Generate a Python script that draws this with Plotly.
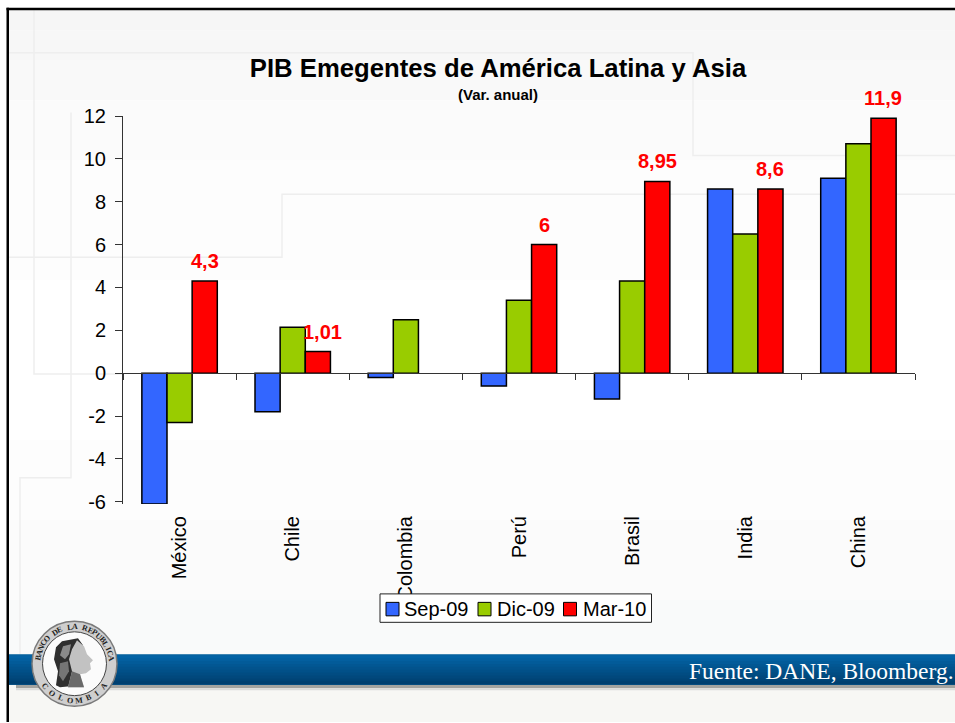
import math
import plotly.graph_objects as go

categories = ["México", "Chile", "Colombia", "Perú", "Brasil", "India", "China"]
sep_09 = [-6.1, -1.8, -0.2, -0.6, -1.2, 8.6, 9.1]
dic_09 = [-2.3, 2.15, 2.5, 3.4, 4.3, 6.5, 10.7]
mar_10 = [4.3, 1.01, None, 6, 8.95, 8.6, 11.9]
mar_labels = ["4,3", "1,01", "", "6", "8,95", "8,6", "11,9"]
y_ticks = [-6, -4, -2, 0, 2, 4, 6, 8, 10, 12]
y_tick_labels = ["-6", "-4", "-2", "0", "2", "4", "6", "8", "10", "12"]
series_names = ["Sep-09", "Dic-09", "Mar-10"]
series_colors = ["#3366ff", "#99cc00", "#ff0000"]

W, H = 955, 723
L, R, T, B = 123, 915, 115.5, 504.4

def px(x):
    return (x - L) / (R - L)

def py(y):
    return (B - y) / (B - T)

def rect(x0, y0, x1, y1, fill, line=None, lw=0, layer="below"):
    return dict(type="rect", xref="paper", yref="paper", layer=layer,
                x0=px(x0), x1=px(x1), y0=py(y0), y1=py(y1), fillcolor=fill,
                line=dict(color=line or fill, width=lw))

def hline(pts, color="#eeeeee"):
    d = "M" + " L".join(f"{px(a):.5f},{py(b):.5f}" for a, b in pts)
    return dict(type="path", xref="paper", yref="paper", layer="below", path=d,
                line=dict(color=color, width=1.5))

def poly(pts, fill, layer="above"):
    d = "M" + " L".join(f"{px(a):.5f},{py(b):.5f}" for a, b in pts) + " Z"
    return dict(type="path", xref="paper", yref="paper", layer=layer, path=d,
                fillcolor=fill, line=dict(width=0))

def circle(cx, cy, r, fill, line="#777777", lw=1):
    return dict(type="circle", xref="paper", yref="paper", layer="above",
                x0=px(cx - r), x1=px(cx + r), y0=py(cy + r), y1=py(cy - r),
                fillcolor=fill, line=dict(color=line, width=lw))

shapes = []
# soft page background
bg = [(9, 30, "#f6f6f6"), (30, 60, "#f7f7f7"), (60, 100, "#f9f9f9"), (100, 160, "#fbfbfb"),
      (160, 280, "#fdfdfd"), (280, 440, "#ffffff"), (440, 520, "#fdfdfd"), (520, 600, "#fbfbfb"),
      (600, 655, "#f9fafa"), (655, 723, "#f7f7f4")]
for y0, y1, c in bg:
    shapes.append(rect(9, y0, W, y1, c))
# faint template lines
shapes.append(hline([(9, 52), (693, 52), (693, 155), (955, 155)]))
shapes.append(hline([(34, 9), (34, 374), (123, 374)]))
shapes.append(hline([(71, 112), (71, 478), (20, 478), (20, 655)]))
shapes.append(hline([(9, 257), (282, 257), (282, 194), (955, 194)]))
# footer band, light top edge then dark blue ramp
shapes.append(rect(16, 685, W, 689, "#a4a4a0"))
shapes.append(rect(16, 689, W, 691, "#dcdcda"))
shapes.append(rect(9, 655, W, 685, "#02558f"))
shapes.append(rect(9, 655, W, 656, "#3f88b6"))
c0, c1 = (3, 99, 165), (0, 64, 112)
n_steps = 10
for i in range(n_steps):
    t = i / (n_steps - 1)
    col = "rgb(%d,%d,%d)" % tuple(round(a + (b - a) * t) for a, b in zip(c0, c1))
    y0 = 656 + i * 29 / n_steps
    shapes.append(rect(9, y0, W, 685, col))
# frame
shapes.append(rect(6.5, 7, W, 9.5, "#000000"))
shapes.append(rect(6.5, 7, 9, H, "#000000"))
# seal
cx, cy = 74.5, 664.5
shapes.append(circle(cx, cy, 42.5, "#cfcfcf", "#7a7a7a", 1.5))
shapes.append(circle(cx, cy, 32, "#fbfbfb", "#444444", 1))
# head: hair, face, shading
shapes.append(poly([(62, 642), (78, 639), (83, 646), (80, 655), (78, 672), (80, 686), (60, 688),
                    (56, 686), (58, 672), (54, 660), (56, 648)], "#2f2f2f"))
shapes.append(poly([(77, 641), (84, 647), (87, 655), (93, 661), (90, 664), (91, 670), (86, 674),
                    (80, 675), (84, 688), (68, 688), (72, 672), (69, 660), (72, 650)], "#c2c2c2"))
shapes.append(poly([(72, 672), (80, 675), (84, 688), (68, 688)], "#6a6a6a"))
shapes.append(poly([(63, 647), (71, 645), (69, 655), (65, 660), (60, 656)], "#8a8a8a"))
shapes.append(poly([(60, 664), (68, 662), (69, 672), (63, 682), (59, 676)], "#757575"))
# legend box and keys
shapes.append(rect(380, 594.5, 651.5, 623, "#ffffff", "#222222", 1, layer="above"))
key_x = [386, 478, 563.5]
text_x = [403, 496, 581.5]
for kx, col in zip(key_x, series_colors):
    shapes.append(rect(kx, 603, kx + 13, 616.5, col, "#000000", 1, layer="above"))

fig = go.Figure()
common = dict(x=categories, marker_line=dict(color="#000000", width=1.5), showlegend=False)
for vals, name, col in zip([sep_09, dic_09, mar_10], series_names, series_colors):
    fig.add_trace(go.Bar(y=vals, name=name, marker_color=col, **common))
fig.add_trace(go.Scatter(x=categories, y=[None] * len(categories), xaxis="x2", showlegend=False,
                         mode="lines", hoverinfo="skip"))

annotations = []
for c, v, t in zip(categories, mar_10, mar_labels):
    if v is None:
        continue
    annotations.append(dict(x=c, y=v, text=f"<b>{t}</b>", showarrow=False, xshift=25 + (5 if c == "Chile" else 0),
                            yshift=7, yanchor="bottom", font=dict(family="Liberation Sans", size=20, color="#ff0000")))
annotations.append(dict(xref="paper", yref="paper", x=px(498), y=py(94), text="<b>(Var. anual)</b>", showarrow=False,
                        xanchor="center", yanchor="middle",
                        font=dict(family="Liberation Sans", size=15, color="#000000")))
annotations.append(dict(xref="paper", yref="paper", x=px(W + 1), y=py(671.5), text="Fuente: DANE, Bloomberg.",
                        xanchor="right", yanchor="middle", showarrow=False,
                        font=dict(family="Liberation Serif", size=23.5, color="#ffffff")))
for tx, name in zip(text_x, series_names):
    annotations.append(dict(xref="paper", yref="paper", x=px(tx), y=py(610), text=name, showarrow=False,
                            xanchor="left", yanchor="middle", xshift=-1,
                            font=dict(family="Liberation Sans", size=20, color="#000000")))

def arc_text(txt, a0, a1, r, flip=False):
    n = len(txt)
    for k, ch in enumerate(txt):
        if ch == " ":
            continue
        a = a0 + (a1 - a0) * k / (n - 1)
        rad = math.radians(a)
        annotations.append(dict(xref="paper", yref="paper", x=px(cx + r * math.sin(rad)), y=py(cy - r * math.cos(rad)),
                                xanchor="center", yanchor="middle", borderpad=0,
                                text=f"<b>{ch}</b>", showarrow=False, textangle=(a + 180) if flip else a,
                                font=dict(family="Liberation Serif", size=8, color="#222222")))
arc_text("BANCO DE LA REPUBLICA", -80, 82, 37)
arc_text("COLOMBIA", 232, 128, 37, True)

fig.update_layout(
    width=W, height=H, autosize=False,
    margin=dict(l=L, r=W - R, t=T, b=H - B, pad=0),
    paper_bgcolor="#ffffff", plot_bgcolor="rgba(0,0,0,0)",
    barmode="group", bargap=1 / 3, bargroupgap=0,
    font=dict(family="Liberation Sans", size=20, color="#000000"),
    title=dict(text="<b>PIB Emegentes de América Latina y Asia</b>", x=498 / W, xanchor="center",
               y=1 - 68 / H, yanchor="middle", font=dict(family="Liberation Sans", size=25.7, color="#000000")),
    shapes=shapes, annotations=annotations,
    showlegend=False,
    xaxis=dict(categoryorder="array", categoryarray=categories, showline=False, ticks="", showgrid=False,
               zeroline=False, tickangle=-90, ticklabelstandoff=7, tickfont=dict(size=20), anchor="y"),
    xaxis2=dict(overlaying="x", matches="x", anchor="free", position=py(373.3), showline=True, linecolor="#333333",
                linewidth=1, ticks="outside", ticklen=6, tickcolor="#333333", tickson="boundaries",
                showticklabels=False, showgrid=False, zeroline=False, side="bottom",
                categoryorder="array", categoryarray=categories),
    yaxis=dict(range=[-6.1, 12], tickvals=y_ticks, ticktext=y_tick_labels, ticks="outside", ticklen=7,
               tickcolor="#333333", showline=True, linecolor="#333333", linewidth=1, showgrid=False,
               zeroline=False, tickfont=dict(size=20), ticklabelstandoff=5, automargin=False),
)
fig.write_html("out.html", post_script="document.body.style.margin='0';", config={"displayModeBar": False})
